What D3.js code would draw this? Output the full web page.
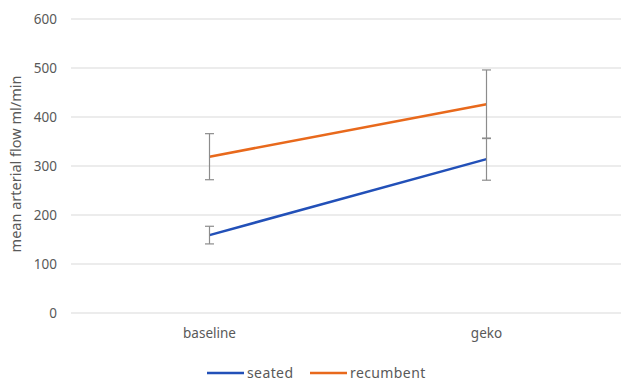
<!DOCTYPE html>
<html>
<head>
<meta charset="utf-8">
<script src="https://cdn.jsdelivr.net/npm/d3@7"></script>
<style>
  body { margin: 0; background: #fff; }
  text { font-family: "Noto Sans", "Open Sans", sans-serif; fill: #595959; }
</style>
</head>
<body>
<svg id="chart" width="625" height="381"></svg>
<script>
const categories = ['baseline', 'geko'];
const seriesNames = ['seated', 'recumbent'];
const seatedMean = [159, 314];
const seatedErr = [18, 43];
const recumbentMean = [319, 426];
const recumbentErr = [47, 70];
const yTicks = [0, 100, 200, 300, 400, 500, 600];
const colors = ['#2250B8', '#E8691C'];

const svg = d3.select('#chart');
const W = 625, H = 381;
const margin = { left: 71, right: 0, top: 19, bottom: 68 };

const x = d3.scaleBand().domain(categories).range([margin.left, W - margin.right]);
const y = d3.scaleLinear().domain([0, 600]).range([H - margin.bottom, margin.top]);

// gridlines
svg.append('g').selectAll('line').data(yTicks).join('line')
  .attr('x1', margin.left).attr('x2', W - 4)
  .attr('y1', d => y(d)).attr('y2', d => y(d))
  .attr('stroke', '#d9d9d9').attr('stroke-width', 1);

// y tick labels
svg.append('g').selectAll('text').data(yTicks).join('text')
  .attr('x', 57).attr('y', d => y(d)).attr('dy', '0.35em')
  .attr('text-anchor', 'end').attr('font-size', 13.5)
  .text(d => d);

// y axis title
svg.append('text')
  .attr('transform', `translate(21, ${y(300) - 2}) rotate(-90)`)
  .attr('text-anchor', 'middle').attr('font-size', 14.5)
  .text('mean arterial flow ml/min');

// category labels
svg.append('g').selectAll('text').data(categories).join('text')
  .attr('x', d => x(d) + x.bandwidth() / 2).attr('y', 333).attr('dy', '0.35em')
  .attr('text-anchor', 'middle').attr('font-size', 13.5)
  .text(d => d);

const series = [
  { name: seriesNames[0], mean: seatedMean, err: seatedErr, color: colors[0] },
  { name: seriesNames[1], mean: recumbentMean, err: recumbentErr, color: colors[1] }
];
const cx = c => x(c) + x.bandwidth() / 2;

const line = d3.line().x(d => cx(d.cat)).y(d => y(d.v));

series.forEach(s => {
  const pts = categories.map((c, i) => ({ cat: c, v: s.mean[i], e: s.err[i] }));
  svg.append('path').datum(pts)
    .attr('d', line).attr('fill', 'none')
    .attr('stroke', s.color).attr('stroke-width', 2.5);

  const eb = svg.append('g').selectAll('g').data(pts).join('g')
    .attr('stroke', '#8c8c8c').attr('stroke-width', 1.2);
  eb.append('line')
    .attr('x1', d => cx(d.cat)).attr('x2', d => cx(d.cat))
    .attr('y1', d => y(d.v - d.e)).attr('y2', d => y(d.v + d.e));
  [-1, 1].forEach(sign => {
    eb.append('line')
      .attr('x1', d => cx(d.cat) - 4.5).attr('x2', d => cx(d.cat) + 4.5)
      .attr('y1', d => y(d.v + sign * d.e)).attr('y2', d => y(d.v + sign * d.e));
  });
});

// legend
const legendX = [207, 310];
const lg = svg.append('g').selectAll('g').data(series).join('g')
  .attr('transform', (d, i) => `translate(${legendX[i]}, 373)`);
lg.append('line').attr('x1', 0).attr('x2', 37)
  .attr('stroke', d => d.color).attr('stroke-width', 2.5);
lg.append('text').attr('x', 40).attr('dy', '0.35em').attr('font-size', 14)
  .attr('letter-spacing', 0.4)
  .text(d => d.name);
</script>
</body>
</html>
